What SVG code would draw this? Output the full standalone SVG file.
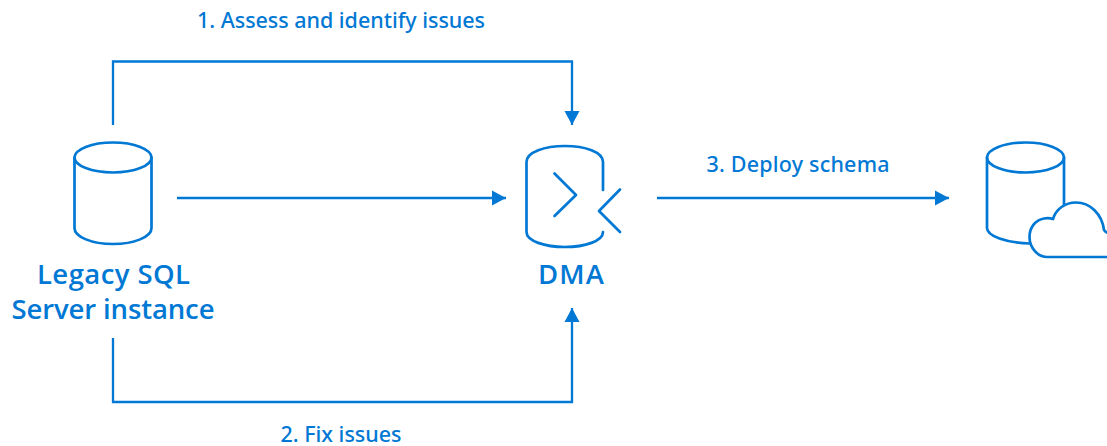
<svg xmlns="http://www.w3.org/2000/svg" width="1107" height="446" viewBox="0 0 1107 446">
<style>
.s{fill:none;stroke:#0078d4;stroke-width:2.7;stroke-linecap:round;stroke-linejoin:round}
.c{fill:none;stroke:#0078d4;stroke-width:2.3}
.t{font-family:"Open Sans","Noto Sans","Liberation Sans",sans-serif;fill:#0078d4;text-anchor:middle}
.n{font-size:27.500px;font-weight:600}
.l{font-family:"Noto Sans","Open Sans","Liberation Sans",sans-serif;font-size:21.500px;font-weight:500}
</style>
<defs>
<marker id="a" markerUnits="userSpaceOnUse" markerWidth="16" markerHeight="16" refX="14" refY="8" orient="auto"><path d="M0 0.500L14 8L0 15.500Z" fill="#0078d4"/></marker>
</defs>
<rect width="1107" height="446" fill="#fff"/>
<g id="connectors">
<path class="c" d="M113 125V61.500H572V125" marker-end="url(#a)"/>
<path class="c" d="M177 198H506" marker-end="url(#a)"/>
<path class="c" d="M113 338V402H572V308" marker-end="url(#a)"/>
<path class="c" d="M657 198H949" marker-end="url(#a)"/>
</g>
<g id="legacy">
<ellipse class="s" cx="113" cy="157.500" rx="38.500" ry="15"/>
<path class="s" d="M74.500 157.500V228C74.500 237 92 244 113 244S151.500 237 151.500 228V157.500"/>
<text class="t n" x="113.500" y="284" textLength="153">Legacy SQL</text>
<text class="t n" x="113" y="319" textLength="203">Server instance</text>
</g>
<g id="dma">
<path class="s" d="M603 190V162C603 152 585 146 565 146S526.500 152 526.500 162V232C526.500 241 545 247 565 247S603 241 603 232"/>
<path class="s" d="M554.500 173.500L576 195L554.500 216"/>
<path class="s" d="M620 189.500L599 211L620 232"/>
<text class="t n" x="571" y="284" textLength="66">DMA</text>
</g>
<g id="target">
<ellipse class="s" cx="1025.500" cy="157.500" rx="38.500" ry="15"/>
<path class="s" d="M1064 157.500V205M987 157.500V228C987 236 1006 243 1030 243.500"/>
<path class="s" d="M1107 232.500C1106 232 1104.500 231 1104 230C1102 214 1090 202.500 1076 202.500C1065 202.500 1056 209 1053 219C1050 218 1047 218 1044 218.500C1035 220 1029.500 228 1029.500 237C1029.500 248 1038 257 1047 257H1107"/>
</g>
<g id="labels">
<text class="t l" x="341" y="28" textLength="288">1. Assess and identify issues</text>
<text class="t l" x="341" y="441.500" textLength="121">2. Fix issues</text>
<text class="t l" x="798" y="172" textLength="183">3. Deploy schema</text>
</g>
</svg>
